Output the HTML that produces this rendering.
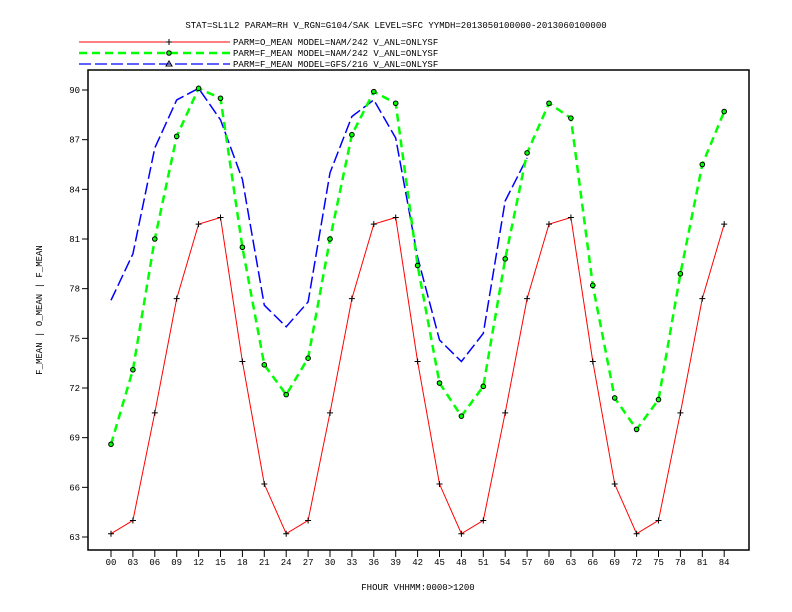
<!DOCTYPE html>
<html><head><meta charset="utf-8"><style>
html,body{margin:0;padding:0;background:#fff;}
svg{display:block;font-family:"Liberation Mono",monospace;font-size:9px;}
</style></head><body>
<svg id="chart" width="792" height="612" viewBox="0 0 792 612">
<text x="396" y="28" text-anchor="middle">STAT=SL1L2 PARAM=RH V_RGN=G104/SAK LEVEL=SFC YYMDH=2013050100000-2013060100000</text>
<g>
 <g>
  <line x1="79" y1="42" x2="230" y2="42" stroke="#f00" stroke-width="1"/>
  <path d="M166 42h6M169 39v6" stroke="#000"/>
  <text x="233" y="45">PARM=O_MEAN MODEL=NAM/242 V_ANL=ONLYSF</text>
 </g>
 <g>
  <line x1="79" y1="53" x2="230" y2="53" stroke="#0f0" stroke-width="2.5" stroke-dasharray="8,5"/>
  <circle cx="169" cy="53" r="2.3" fill="#0f0" stroke="#000"/>
  <text x="233" y="56">PARM=F_MEAN MODEL=NAM/242 V_ANL=ONLYSF</text>
 </g>
 <g>
  <line x1="79" y1="64" x2="230" y2="64" stroke="#00f" stroke-width="1.2" stroke-dasharray="12,4"/>
  <path d="M166 66h6l-3-5z" fill="none" stroke="#000"/>
  <text x="233" y="67">PARM=F_MEAN MODEL=GFS/216 V_ANL=ONLYSF</text>
 </g>
</g>
<rect x="88" y="70" width="661" height="480" fill="none" stroke="#000" stroke-width="1.5"/>
<g id="yaxis"></g>
<g id="xaxis"></g>
<text x="0" y="0" transform="translate(42,310) rotate(-90)" text-anchor="middle">F_MEAN | O_MEAN | F_MEAN</text>
<text x="418" y="590" text-anchor="middle">FHOUR VHHMM:0000&gt;1200</text>
<g id="series"></g>
</svg>
<script>
const categories=["00","03","06","09","12","15","18","21","24","27","30","33","36","39","42","45","48","51","54","57","60","63","66","69","72","75","78","81","84"];
const yTicks=[63,66,69,72,75,78,81,84,87,90];
const oMeanNam=[63.2,64.0,70.5,77.4,81.9,82.3,73.6,66.2,63.2,64.0,70.5,77.4,81.9,82.3,73.6,66.2,63.2,64.0,70.5,77.4,81.9,82.3,73.6,66.2,63.2,64.0,70.5,77.4,81.9];
const fMeanNam=[68.6,73.1,81.0,87.2,90.1,89.5,80.5,73.4,71.6,73.8,81.0,87.3,89.9,89.2,79.4,72.3,70.3,72.1,79.8,86.2,89.2,88.3,78.2,71.4,69.5,71.3,78.9,85.5,88.7];
const fMeanGfs=[77.3,80.1,86.5,89.4,90.1,88.2,84.6,77.0,75.7,77.2,85.0,88.4,89.4,87.1,79.9,74.9,73.6,75.3,83.3,85.9];
const NS="http://www.w3.org/2000/svg";
function xPos(i){return 111+i*21.9;}
function yPos(v){return 537-(v-63)*(447/27);}
function mk(tag,attrs,parent){const e=document.createElementNS(NS,tag);for(const k in attrs)e.setAttribute(k,attrs[k]);parent.appendChild(e);return e;}
const ya=document.getElementById('yaxis'),xa=document.getElementById('xaxis'),sg=document.getElementById('series');
yTicks.forEach(v=>{
 const g=mk('g',{},ya);
 
 
 mk('line',{x1:82,x2:88,y1:yPos(v),y2:yPos(v),stroke:'#000'},g);
 const t=mk('text',{x:80,y:yPos(v)+3,'text-anchor':'end'},g);t.textContent=v;
});
categories.forEach((c,i)=>{
 const g=mk('g',{},xa);
 
 
 mk('line',{x1:xPos(i),x2:xPos(i),y1:550,y2:557,stroke:'#000'},g);
 const t=mk('text',{x:xPos(i),y:565,'text-anchor':'middle'},g);t.textContent=c;
});
function pts(arr){return arr.map((v,i)=>xPos(i)+','+yPos(v)).join(' ');}
const gB=mk('g',{},sg);


mk('polyline',{points:pts(fMeanGfs),fill:'none',stroke:'#00f','stroke-width':1.5,'stroke-dasharray':'12,4'},gB);
const gR=mk('g',{},sg);


mk('polyline',{points:pts(oMeanNam),fill:'none',stroke:'#f00','stroke-width':1},gR);
oMeanNam.forEach((v,i)=>{const p=mk('path',{d:`M${xPos(i)-3} ${yPos(v)}h6M${xPos(i)} ${yPos(v)-3}v6`,stroke:'#000'},gR);
 
 });
const gG=mk('g',{},sg);


mk('polyline',{points:pts(fMeanNam),fill:'none',stroke:'#0f0','stroke-width':2.5,'stroke-dasharray':'8,5'},gG);
fMeanNam.forEach((v,i)=>{const c=mk('circle',{cx:xPos(i),cy:yPos(v),r:2.3,fill:'#0f0',stroke:'#000'},gG);
 
 });
</script>
</body></html>
